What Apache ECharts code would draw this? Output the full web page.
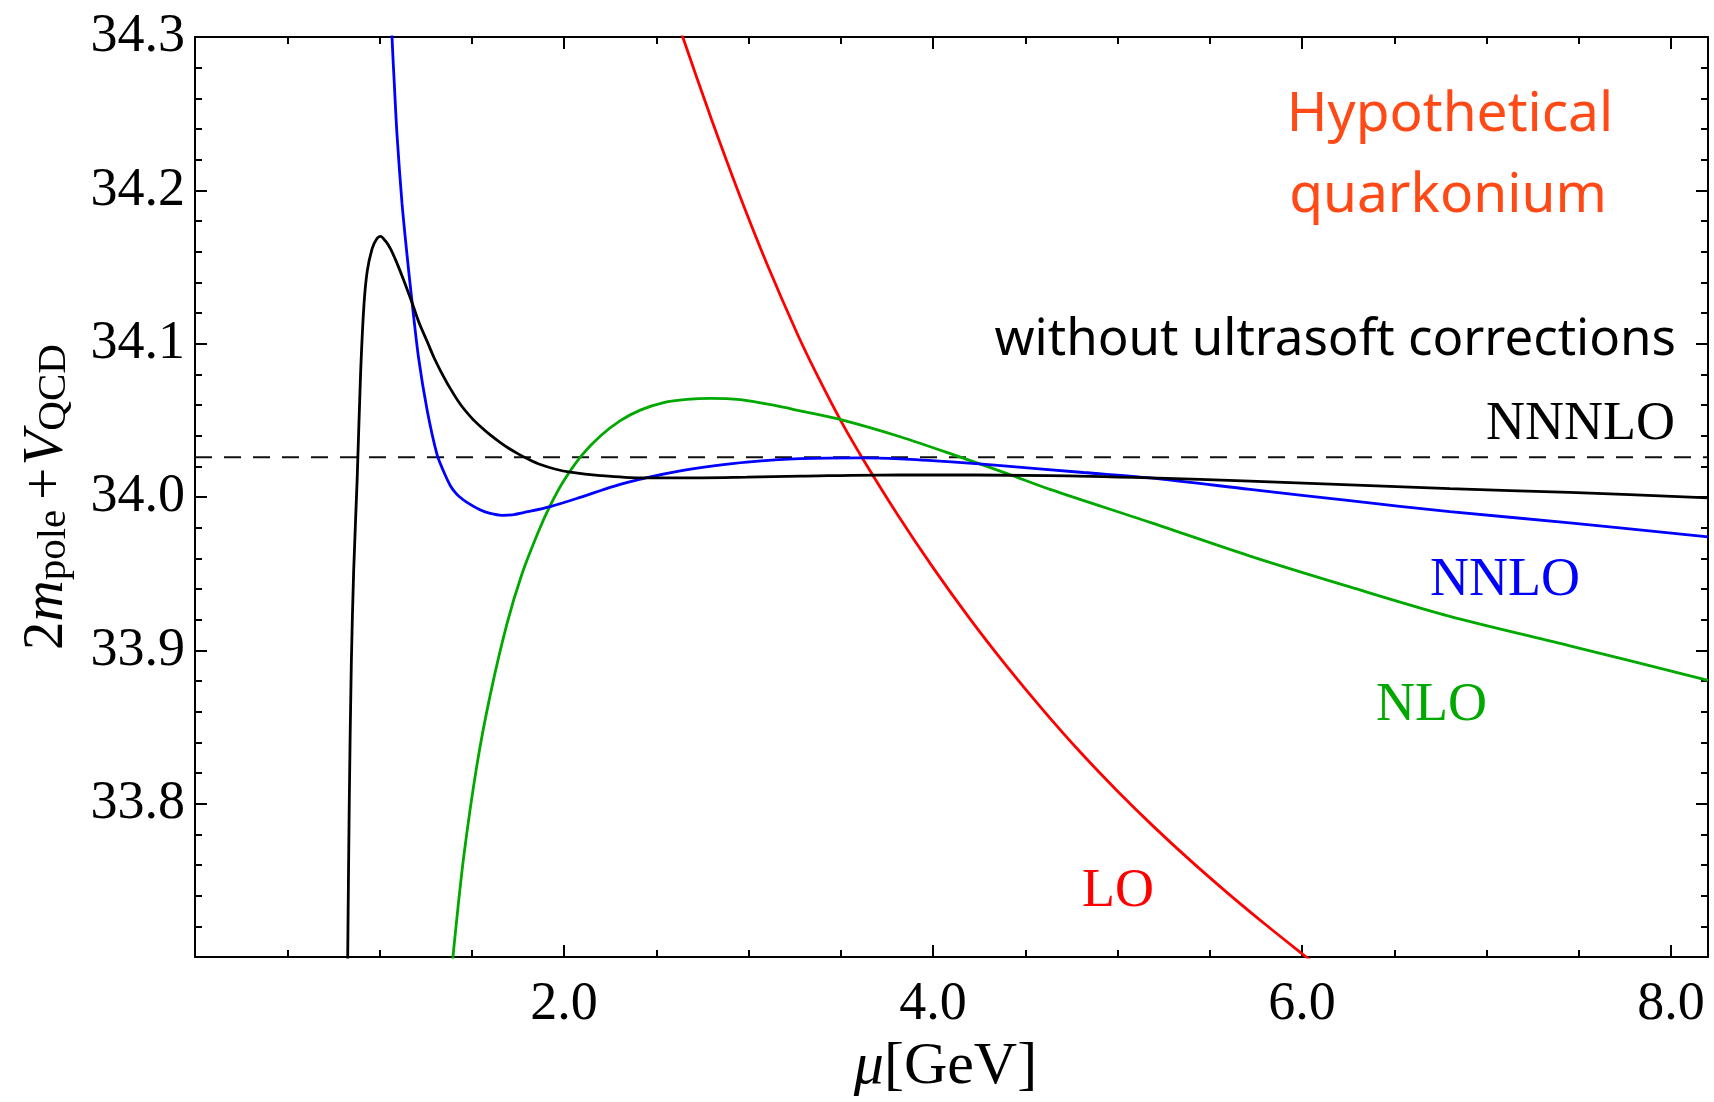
<!DOCTYPE html>
<html>
<head>
<meta charset="utf-8">
<script src="https://cdn.jsdelivr.net/npm/echarts@6/dist/echarts.min.js"></script>
<style>
html,body{margin:0;padding:0;background:#fff;}
#c{width:1714px;height:1102px;}
</style>
</head>
<body>
<div id="c"></div>
<script>
// ---- data (mu [GeV], 2m_pole + V_QCD) ----
const loData = [
  [2.60,34.315],[2.649,34.298],[2.80,34.246],[2.951,34.197],[3.10,34.152],[3.266,34.106],[3.37,34.080],
  [3.508,34.048],[3.614,34.026],[3.80,33.990],[4.00,33.954],[4.20,33.9206],[4.40,33.8896],
  [4.60,33.8606],[4.80,33.8334],[5.00,33.8082],[5.20,33.7846],[5.40,33.7624],[5.60,33.7414],
  [5.80,33.7214],[6.00,33.7022],[6.10,33.6927]
];
const nloData = [
  [1.385,33.68],[1.402,33.705],[1.456,33.765],[1.529,33.826],[1.601,33.8715],[1.691,33.9174],
  [1.772,33.9498],[1.862,33.9777],[1.926,33.9947],[1.998,34.0105],[2.097,34.0273],[2.197,34.0398],
  [2.305,34.0498],[2.413,34.0567],[2.540,34.0616],[2.666,34.0637],[2.793,34.0644],[2.955,34.0635],
  [3.135,34.0599],[3.280,34.0562],[3.515,34.050],[3.822,34.0393],[4.136,34.0265],[4.402,34.0153],
  [4.634,34.005],[5.176,33.9835],[5.718,33.9615],[6.259,33.9414],[6.801,33.9222],[7.451,33.903],[8.20,33.8805]
];
const nnloData = [
  [1.060,34.34],[1.068,34.30],[1.080,34.27],[1.095,34.236],[1.122,34.1915],[1.149,34.158],
  [1.177,34.1265],[1.212,34.0905],[1.258,34.0568],[1.312,34.0276],[1.35,34.016],[1.384,34.0074],
  [1.41,34.003],[1.43,34.0005],[1.474,33.9965],[1.547,33.9915],[1.60,33.9893],[1.664,33.9881],
  [1.72,33.9884],[1.781,33.9899],[1.926,33.9938],[2.088,33.9998],[2.269,34.007],[2.45,34.0126],
  [2.63,34.017],[2.81,34.0203],[2.991,34.0228],[3.28,34.025],[3.604,34.0256],[3.822,34.0249],
  [4.10,34.0229],[4.40,34.0202],[4.815,34.016],[5.176,34.0125],[5.718,34.005],
  [6.259,33.9976],[6.801,33.9905],[7.451,33.9832],[8.20,33.974]
];
const nnnloData = [
  [0.826,33.68],[0.836,33.80],[0.847,33.89],[0.860,33.952],[0.879,34.012],[0.897,34.079],
  [0.915,34.124],[0.933,34.147],[0.960,34.162],[0.983,34.168],[1.005,34.170],[1.032,34.167],
  [1.059,34.162],[1.086,34.155],[1.113,34.147],[1.145,34.137],[1.177,34.1265],[1.215,34.1135],
  [1.258,34.1015],[1.295,34.091],[1.330,34.0825],[1.38,34.0715],[1.438,34.0605],[1.50,34.0515],
  [1.547,34.046],[1.60,34.0405],[1.655,34.0355],[1.70,34.0318],[1.754,34.028],[1.81,34.0245],
  [1.872,34.0212],[1.95,34.0183],[2.034,34.0162],[2.197,34.014],[2.413,34.0125],
  [2.630,34.0125],[2.991,34.013],[3.280,34.0136],[3.822,34.0145],[4.634,34.014],[5.176,34.0125],
  [5.718,34.0104],[6.801,34.0055],[7.451,34.003],[8.20,33.9995]
];
const nnnloRefData = [[0,34.026],[8.2,34.026]];

const xRange = [0, 8.2];
const yRange = [33.7, 34.3];
const xTickStep = 2;
const yTickStep = 0.1;

const serif = 'Liberation Serif';

const chart = echarts.init(document.getElementById('c'), null, {renderer: 'canvas'});

const tickRich = {t: {fontFamily: serif, fontSize: 54, lineHeight: 54, color: '#000'}};

function xAxisCfg(pos, showLabel) {
  return {
    type: 'value', position: pos, min: xRange[0], max: xRange[1], interval: xTickStep,
    axisLine: {show: true, onZero: false, lineStyle: {color: '#000', width: 2}},
    axisTick: {show: true, inside: true, length: 12, lineStyle: {color: '#000', width: 2}},
    minorTick: {show: true, splitNumber: 4, length: 7, lineStyle: {color: '#000', width: 2}},
    splitLine: {show: false}, minorSplitLine: {show: false},
    axisLabel: {show: showLabel, showMinLabel: false, margin: 21, fontFamily: serif, fontSize: 54, color: '#000',
      formatter: v => '{t|' + v.toFixed(1) + '}', rich: tickRich}
  };
}
function yAxisCfg(pos, showLabel) {
  return {
    type: 'value', position: pos, min: yRange[0], max: yRange[1], interval: yTickStep,
    axisLine: {show: true, onZero: false, lineStyle: {color: '#000', width: 2}},
    axisTick: {show: true, inside: true, length: 12, lineStyle: {color: '#000', width: 2}},
    minorTick: {show: true, splitNumber: 5, length: 7, lineStyle: {color: '#000', width: 2}},
    splitLine: {show: false}, minorSplitLine: {show: false},
    axisLabel: {show: showLabel, showMinLabel: false, margin: 10, fontFamily: serif, fontSize: 54, color: '#000',
      formatter: v => '{t|' + v.toFixed(1) + '}', rich: tickRich}
  };
}

const xa0 = xAxisCfg('bottom', true);
xa0.name = '{i|μ}{n|[GeV]}';
xa0.nameLocation = 'middle';
xa0.nameGap = 73;
xa0.nameTextStyle = {rich: {
  i: {fontFamily: serif, fontStyle: 'italic', fontSize: 60, color: '#000'},
  n: {fontFamily: serif, fontSize: 60, color: '#000', padding: [0, 12, 0, 0]}
}};
const ya0 = yAxisCfg('left', true);
ya0.name = '{n|2}{i|m}{s|pole}{p|+}{i|V}{s|QCD}';
ya0.nameLocation = 'middle';
ya0.nameRotate = 90;
ya0.nameGap = 116;
ya0.nameTextStyle = {rich: {
  n: {fontFamily: serif, fontSize: 57, color: '#000', lineHeight: 64},
  p: {fontFamily: serif, fontSize: 57, color: '#000', lineHeight: 64, padding: [0, 2, 0, 10]},
  i: {fontFamily: serif, fontStyle: 'italic', fontSize: 57, color: '#000', lineHeight: 64},
  s: {fontFamily: serif, fontSize: 41, color: '#000', lineHeight: 64, padding: [14, 0, 0, 0]}
}};

function lineSeries(name, data, color, extra) {
  return Object.assign({
    name: name, type: 'line', data: data, xAxisIndex: 0, yAxisIndex: 0,
    showSymbol: false, symbol: 'none', smooth: 0.3, clip: true, silent: true,
    lineStyle: {color: color, width: 2.8}
  }, extra || {});
}

chart.setOption({
  animation: false,
  backgroundColor: '#fff',
  textStyle: {fontFamily: serif},
  grid: {left: 195, right: 6, top: 37, bottom: 129, containLabel: false},
  xAxis: [xa0, xAxisCfg('top', false)],
  yAxis: [ya0, yAxisCfg('right', false)],
  series: [
    lineSeries('NNNLO ref', nnnloRefData, '#111', {smooth: false, lineStyle: {color: '#111', width: 2, type: [17, 12]}}),
    lineSeries('LO', loData, '#ff0000'),
    lineSeries('NLO', nloData, '#00a800'),
    lineSeries('NNLO', nnloData, '#0000ff'),
    lineSeries('NNNLO', nnnloData, '#000000')
  ],
  graphic: [
    {type: 'text', x: 1450, y: 115, style: {text: 'Hypothetical', fill: '#ff4a17', font: '55px "Noto Sans"', textAlign: 'center', textVerticalAlign: 'middle'}},
    {type: 'text', x: 1448, y: 196, style: {text: 'quarkonium', fill: '#ff4a17', font: '55px "Noto Sans"', textAlign: 'center', textVerticalAlign: 'middle'}},
    {type: 'text', x: 1676, y: 340, style: {text: 'without ultrasoft corrections', fill: '#000', font: '51px "Noto Sans"', textAlign: 'right', textVerticalAlign: 'middle'}},
    {type: 'text', x: 1675, y: 425, style: {text: 'NNNLO', fill: '#000', font: '54px "Liberation Serif"', textAlign: 'right', textVerticalAlign: 'middle'}},
    {type: 'text', x: 1430, y: 581, style: {text: 'NNLO', fill: '#0000ff', font: '54px "Liberation Serif"', textAlign: 'left', textVerticalAlign: 'middle'}},
    {type: 'text', x: 1376, y: 706, style: {text: 'NLO', fill: '#00a800', font: '54px "Liberation Serif"', textAlign: 'left', textVerticalAlign: 'middle'}},
    {type: 'text', x: 1082, y: 892, style: {text: 'LO', fill: '#ff0000', font: '54px "Liberation Serif"', textAlign: 'left', textVerticalAlign: 'middle'}}
  ]
});
</script>
</body>
</html>
